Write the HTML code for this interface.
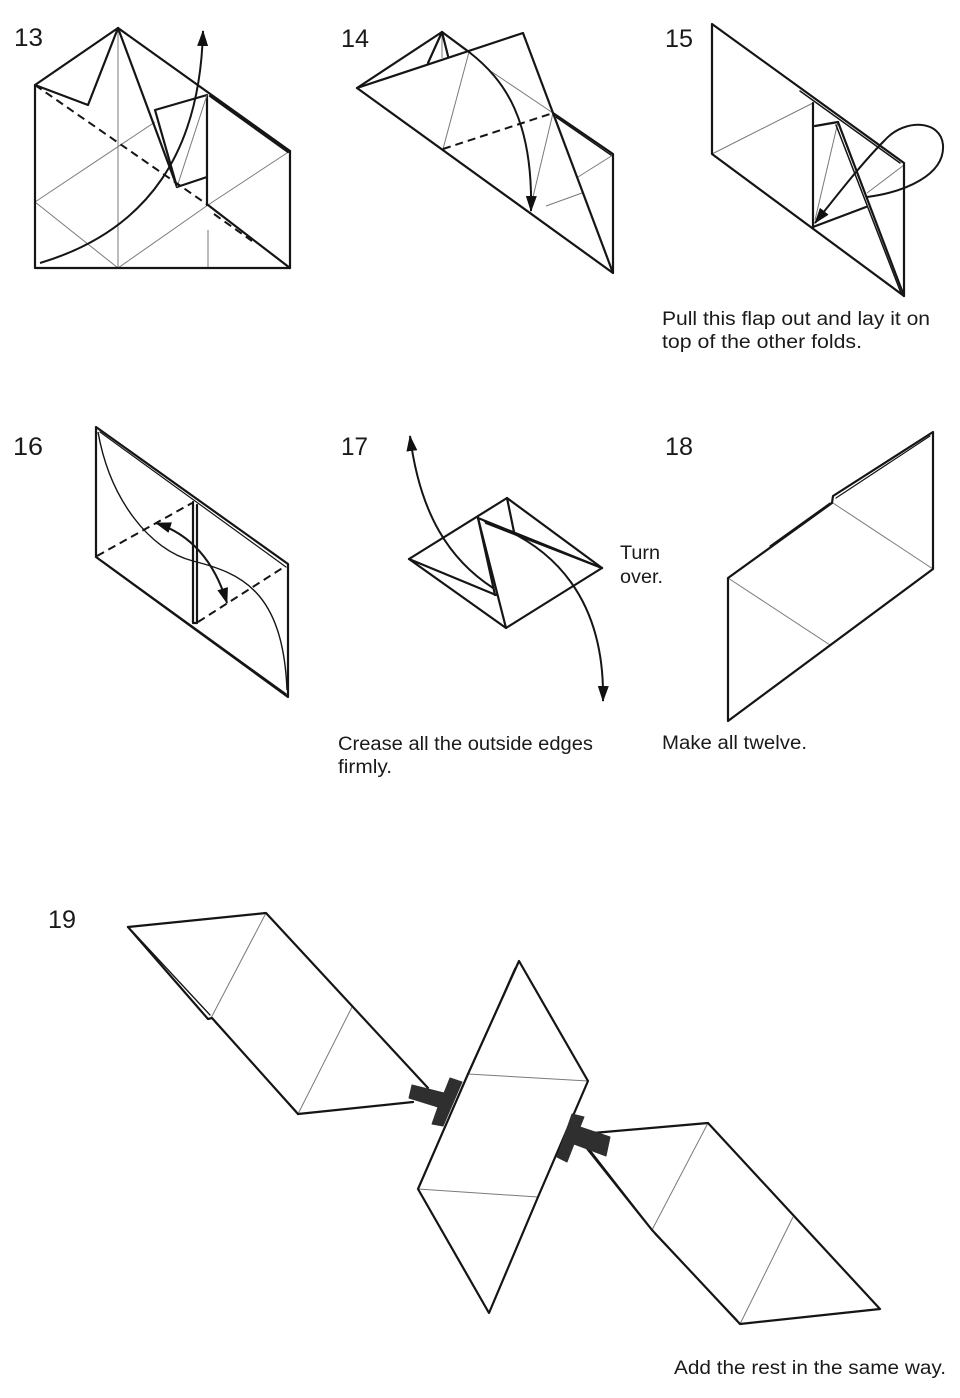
<!DOCTYPE html>
<html>
<head>
<meta charset="utf-8">
<style>
html,body{margin:0;padding:0;background:#fff;}
svg{display:block;}
text{font-family:"Liberation Sans",sans-serif;fill:#1a1a1a;}
</style>
</head>
<body>
<svg width="960" height="1398" viewBox="0 0 960 1398" xmlns="http://www.w3.org/2000/svg">
<defs>
<marker id="ah" viewBox="0 0 16 11" refX="15" refY="5.5" markerWidth="16" markerHeight="11" markerUnits="userSpaceOnUse" orient="auto-start-reverse">
<path d="M0,0 L16,5.5 L0,11 z" fill="#111"/>
</marker>
</defs>
<rect width="960" height="1398" fill="#fff"/>

<!-- Step numbers -->
<g font-size="25">
<text x="14" y="46" textLength="29" lengthAdjust="spacingAndGlyphs">13</text>
<text x="341" y="47" textLength="28" lengthAdjust="spacingAndGlyphs">14</text>
<text x="665" y="47" textLength="28" lengthAdjust="spacingAndGlyphs">15</text>
<text x="13" y="455" textLength="30" lengthAdjust="spacingAndGlyphs">16</text>
<text x="341" y="455" textLength="27" lengthAdjust="spacingAndGlyphs">17</text>
<text x="665" y="455" textLength="28" lengthAdjust="spacingAndGlyphs">18</text>
<text x="48" y="928" textLength="28" lengthAdjust="spacingAndGlyphs">19</text>
</g>

<!-- Captions -->
<g font-size="19">
<text x="662" y="325" textLength="268" lengthAdjust="spacingAndGlyphs">Pull this flap out and lay it on</text>
<text x="662" y="348" textLength="200" lengthAdjust="spacingAndGlyphs">top of the other folds.</text>
<text x="620" y="559" textLength="40" lengthAdjust="spacingAndGlyphs">Turn</text>
<text x="620" y="583" textLength="43" lengthAdjust="spacingAndGlyphs">over.</text>
<text x="338" y="750" textLength="255" lengthAdjust="spacingAndGlyphs">Crease all the outside edges</text>
<text x="338" y="773" textLength="54" lengthAdjust="spacingAndGlyphs">firmly.</text>
<text x="662" y="749" textLength="145" lengthAdjust="spacingAndGlyphs">Make all twelve.</text>
<text x="674" y="1374" textLength="272" lengthAdjust="spacingAndGlyphs">Add the rest in the same way.</text>
</g>

<!-- ================= STEP 13 ================= -->
<g stroke="#7a7a7a" stroke-width="1" fill="none">
<path d="M118,28 V268"/>
<path d="M35,202 L155,122"/>
<path d="M35,202 L118,268"/>
<path d="M118,268 L208,205"/>
<path d="M208,205 L290,151"/>
<path d="M208,230 V268"/>
</g>
<g stroke="#151515" stroke-width="2.2" fill="none" stroke-linejoin="round" stroke-linecap="round">
<path d="M35,85 V268 H290 V151"/>
<path d="M118,28 L290,151"/>
<path d="M35,85 L118,28 L88,105 Z"/>
<path d="M118,28 L177,187"/>
<path d="M155,110 L207,95 L207,177 L177,187 Z" fill="#fff"/>
<path d="M207,177 V205"/>
<path d="M210,96 L288,152"/>
<path d="M208,205 L290,268"/>
</g>
<path d="M207,95 L177,187" stroke="#7a7a7a" stroke-width="1" fill="none"/>
<g stroke="#151515" stroke-width="2" fill="none" stroke-dasharray="8 5">
<path d="M35,85 L208,205"/>
<path d="M214,214 L252,241"/>
</g>
<path d="M40,263 C150,230 200,150 203,31" stroke="#151515" stroke-width="2" fill="none" marker-end="url(#ah)"/>

<!-- ================= STEP 14 ================= -->
<g stroke="#7a7a7a" stroke-width="1" fill="none">
<path d="M442,32 V58"/>
<path d="M469,52 L443,149"/>
<path d="M489,70 L553,113"/>
<path d="M553,113 L533,197"/>
<path d="M613,155 L578,177"/>
<path d="M582,193 L546,206"/>
</g>
<g stroke="#151515" stroke-width="2.2" fill="none" stroke-linejoin="round" stroke-linecap="round">
<path d="M357,88 L442,32 L469,52"/>
<path d="M357,88 L523,33 L613,273 Z"/>
<path d="M442,32 L428,63"/>
<path d="M442,32 L448,56"/>
<path d="M553,113 L613,154 V273"/>
<path d="M556,117 L611,155" stroke-width="1.5"/>
</g>
<path d="M443,149 L553,113" stroke="#151515" stroke-width="2" stroke-dasharray="8 5" fill="none"/>
<path d="M469,52 C505,80 533,120 531,211" stroke="#151515" stroke-width="2" fill="none" marker-end="url(#ah)"/>

<!-- ================= STEP 15 ================= -->
<g stroke="#7a7a7a" stroke-width="1" fill="none">
<path d="M712,154 L813,103"/>
<path d="M838,122 L815,220"/>
<path d="M904,165 L867,193"/>
</g>
<g stroke="#151515" stroke-width="2.2" fill="none" stroke-linejoin="round" stroke-linecap="round">
<path d="M712,24 V154 L904,296 V163 Z"/>
<path d="M800,91 L900,163" stroke-width="1.5"/>
<path d="M813,103 V227"/>
<path d="M815,126 L838,122 L904,296"/>
<path d="M836,125 L901,293" stroke-width="1.5"/>
<path d="M866,207 L813,227"/>
</g>
<path d="M867,197 C905,192 945,175 943,145 C941,120 905,118 885,140 C865,160 845,185 815,223" stroke="#151515" stroke-width="2" fill="none" marker-end="url(#ah)"/>

<!-- ================= STEP 16 ================= -->
<g stroke="#151515" stroke-width="2.2" fill="none" stroke-linejoin="round" stroke-linecap="round">
<path d="M96,427 V557 L288,697 V564 Z"/>
<path d="M100,432 L286,567" stroke-width="1.2"/>
<path d="M102,561 L286,694" stroke-width="1.4"/>
<path d="M193,502 V623 H197 V505"/>
</g>
<g stroke="#151515" stroke-width="2" fill="none" stroke-dasharray="8 5">
<path d="M97,556 L192,503"/>
<path d="M198,622 L284,567"/>
</g>
<path d="M98,432 C110,500 150,550 193,561 C240,573 283,590 287,690" stroke="#151515" stroke-width="1.4" fill="none"/>
<path d="M156,523 Q208,540 227,603" stroke="#151515" stroke-width="2" fill="none" marker-start="url(#ah)" marker-end="url(#ah)"/>

<!-- ================= STEP 17 ================= -->
<g stroke="#151515" stroke-width="2.2" fill="none" stroke-linejoin="round" stroke-linecap="round">
<path d="M409,559 L507,498 L602,568 L506,628 Z"/>
<path d="M478,518 L506,628"/>
<path d="M478,518 L495,595"/>
<path d="M409,559 L496,595"/>
<path d="M478,518 L602,568"/>
<path d="M486,523 L602,568"/>
<path d="M507,498 L514,532"/>
</g>
<path d="M493,588 C450,560 420,515 410,436" stroke="#151515" stroke-width="2" fill="none" marker-end="url(#ah)"/>
<path d="M484,521 C555,545 605,600 603,701" stroke="#151515" stroke-width="2" fill="none" marker-end="url(#ah)"/>

<!-- ================= STEP 18 ================= -->
<g stroke="#7a7a7a" stroke-width="1" fill="none">
<path d="M728,578 L830,645"/>
<path d="M833,503 L933,569"/>
</g>
<g stroke="#151515" stroke-width="2.2" fill="none" stroke-linejoin="round" stroke-linecap="round">
<path d="M728,578 L832,503 L833,496 L933,432 V569 L728,721 Z"/>
<path d="M770,546 L830,503" stroke-width="1.2"/>
<path d="M836,498 L930,436" stroke-width="1.2"/>
</g>

<!-- ================= STEP 19 ================= -->
<g stroke="#7a7a7a" stroke-width="1" fill="none">
<path d="M266,913 L211,1018"/>
<path d="M352,1007 L298,1114"/>
<path d="M468,1074 L588,1081"/>
<path d="M418,1189 L538,1197"/>
<path d="M708,1123 L652,1230"/>
<path d="M793,1217 L740,1324"/>
</g>
<g stroke="#151515" stroke-width="2.2" fill="none" stroke-linejoin="round" stroke-linecap="round">
<!-- left unit -->
<path d="M128,927 L266,913 L428,1088"/>
<path d="M298,1114 L413,1102"/>
<path d="M128,927 L208,1019 L212,1018 L298,1114"/>
<path d="M132,931 L210,1015" stroke-width="1.3"/>
<path d="M215,1022 L296,1111" stroke-width="1.3"/>
<!-- central unit -->
<path d="M519,961 L588,1081 L538,1197 L489,1313 L418,1189 L468,1074 Z"/>
<path d="M515,968 L471,1068" stroke-width="1.3"/>
<!-- right unit -->
<path d="M593,1133 L708,1123 L880,1309 L740,1324 L652,1230 L585,1146"/>
<path d="M590,1150 L650,1227" stroke-width="1.3"/>
<path d="M655,1234 L737,1320" stroke-width="1.3"/>
</g>
<!-- black insertion arrows -->
<path d="M412,1085 L444,1093 L450,1078 L462,1082 L443,1126 L432,1124 L438,1107 L409,1098 Z" fill="#2f2f2f" stroke="#2f2f2f" stroke-width="1" stroke-linejoin="round"/>
<path d="M572,1114 L584,1117 L580,1127 L610,1137 L606,1156 L574,1144 L567,1162 L557,1157 Z" fill="#2f2f2f" stroke="#2f2f2f" stroke-width="1" stroke-linejoin="round"/>
</svg>
</body>
</html>
